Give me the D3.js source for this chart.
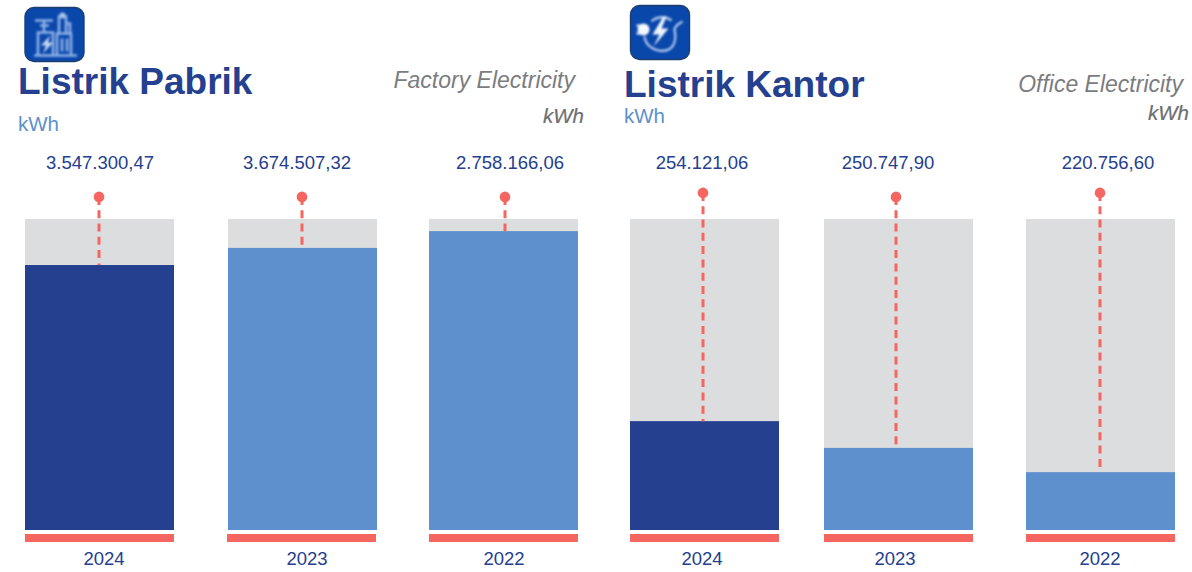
<!DOCTYPE html>
<html>
<head>
<meta charset="utf-8">
<script src="https://cdn.jsdelivr.net/npm/d3@7"></script>
<style>
  html, body { margin: 0; padding: 0; background: #fff; }
  svg { display: block; }
  text { font-family: "Liberation Sans", Arial, sans-serif; }
</style>
</head>
<body>
<div id="chart"></div>
<script>
var totWidth = 1192;
var totHeight = 572;

//-- Data
var years = ["2024", "2023", "2022"];

var factoryLabels = ["3.547.300,47", "3.674.507,32", "2.758.166,06"];
var factoryFill = [0.852, 0.907, 0.961];   // filled share of each grey track
var factoryPin = [1.071, 1.071, 1.071];    // top of the pin, same scale

var officeLabels = ["254.121,06", "250.747,90", "220.756,60"];
var officeFill = [0.350, 0.264, 0.186];
var officePin = [1.084, 1.071, 1.084];

//-- Colors
var navy = "#24408e";
var blue = "#5d90cd";
var track = "#dcddde";
var red = "#f4665f";
var grey = "#6d6e71";

var svg = d3.select("#chart")
  .append("svg")
    .attr("width", totWidth)
    .attr("height", totHeight)
    .attr("viewBox", "0 0 " + totWidth + " " + totHeight);

var defs = svg.append("defs");
defs.append("filter").attr("id", "soft")
  .attr("x", "-10%").attr("y", "-10%").attr("width", "120%").attr("height", "120%")
  .append("feGaussianBlur").attr("stdDeviation", 0.8);

//-- Shared y scale: 0 = base of track, 1 = top of track
var y = d3.scaleLinear().domain([0, 1]).range([530, 219]);
var barWidth = 149;

function drawPanel(p) {
  var g = svg.append("g");

  var xBar = d3.scaleOrdinal().domain(years).range(p.barX);
  var xBase = d3.scaleOrdinal().domain(years).range(p.baseX);
  var xPin = d3.scaleOrdinal().domain(years).range(p.pinX);
  var xValue = d3.scaleOrdinal().domain(years).range(p.valueX);
  var xYear = d3.scaleOrdinal().domain(years).range(p.yearX);

  var rows = years.map(function(d, i) {
    return {year: d, label: p.labels[i], fill: p.fill[i], pin: p.pin[i]};
  });

  //-- Titles
  g.append("text").attr("x", p.titleX).attr("y", p.titleY)
    .attr("font-size", 37).attr("font-weight", "bold").attr("fill", navy)
    .text(p.title);
  g.append("text").attr("x", p.titleX).attr("y", p.unitY)
    .attr("font-size", 20.5).attr("fill", blue)
    .text("kWh");
  g.append("text").attr("x", p.subX).attr("y", p.subY)
    .attr("text-anchor", "end").attr("font-size", 23).attr("font-style", "italic")
    .attr("fill", "#7b7c7f")
    .text(p.subtitle);
  g.append("text").attr("x", p.subUnitX).attr("y", p.subUnitY)
    .attr("text-anchor", "end").attr("font-size", 20.5).attr("font-style", "italic")
    .attr("fill", grey).attr("stroke", grey).attr("stroke-width", 0.2)
    .text("kWh");

  //-- Grey tracks
  g.selectAll(".track").data(rows).enter().append("rect")
    .attr("x", function(d) { return xBar(d.year); })
    .attr("y", y(1))
    .attr("width", barWidth)
    .attr("height", y(0) - y(1))
    .attr("fill", track);

  //-- Filled bars, the current year is darker
  g.selectAll(".fill").data(rows).enter().append("rect")
    .attr("x", function(d) { return xBar(d.year); })
    .attr("y", function(d) { return y(d.fill); })
    .attr("width", barWidth)
    .attr("height", function(d) { return y(0) - y(d.fill); })
    .attr("fill", function(d, i) { return i == 0 ? navy : blue; });

  //-- Red base strips
  g.selectAll(".base").data(rows).enter().append("rect")
    .attr("x", function(d) { return xBase(d.year); })
    .attr("y", 534)
    .attr("width", barWidth)
    .attr("height", 8)
    .attr("fill", red);

  //-- Pins
  g.selectAll(".pin").data(rows).enter().append("line")
    .attr("x1", function(d) { return xPin(d.year); })
    .attr("x2", function(d) { return xPin(d.year); })
    .attr("y1", function(d) { return y(d.pin); })
    .attr("y2", function(d) { return y(d.fill); })
    .attr("stroke", red)
    .attr("stroke-width", 3)
    .attr("stroke-dasharray", "8 5.3");
  g.selectAll(".dot").data(rows).enter().append("circle")
    .attr("cx", function(d) { return xPin(d.year); })
    .attr("cy", function(d) { return y(d.pin); })
    .attr("r", 5.3)
    .attr("fill", red);

  //-- Value labels
  g.selectAll(".value").data(rows).enter().append("text")
    .attr("x", function(d) { return xValue(d.year); })
    .attr("y", 169)
    .attr("text-anchor", "middle")
    .attr("font-size", 18.5)
    .attr("fill", navy)
    .text(function(d) { return d.label; });

  //-- Year labels
  g.selectAll(".year").data(rows).enter().append("text")
    .attr("x", function(d) { return xYear(d.year); })
    .attr("y", 565)
    .attr("text-anchor", "middle")
    .attr("font-size", 18.5)
    .attr("fill", navy)
    .text(function(d) { return d.year; });
}

drawPanel({
  title: "Listrik Pabrik", subtitle: "Factory Electricity",
  labels: factoryLabels, fill: factoryFill, pin: factoryPin,
  titleX: 18, titleY: 94, unitY: 131,
  subX: 575, subY: 88, subUnitX: 584, subUnitY: 123,
  barX: [25, 228, 429], baseX: [25, 227, 429],
  pinX: [99, 302, 505], valueX: [100, 297, 510], yearX: [104, 307, 504]
});

drawPanel({
  title: "Listrik Kantor", subtitle: "Office Electricity",
  labels: officeLabels, fill: officeFill, pin: officePin,
  titleX: 624, titleY: 97, unitY: 123,
  subX: 1183, subY: 92, subUnitX: 1189, subUnitY: 120,
  barX: [630, 824, 1026], baseX: [630, 824, 1026],
  pinX: [703, 896, 1100], valueX: [702, 888, 1108], yearX: [702, 895, 1100]
});

//-- Icons
function iconBox(x, yTop) {
  var g = svg.append("g").attr("transform", "translate(" + x + "," + yTop + ")");
  g.append("rect").attr("width", 59).attr("height", 54).attr("rx", 9)
    .attr("fill", "#0a47ab").attr("stroke", "#1d3f70").attr("stroke-width", 1.4);
  return g.append("g").attr("filter", "url(#soft)");
}

// factory
var ic1 = iconBox(25, 7.5);
ic1.append("path")
  .attr("d", "M9 48H52 M13 47V25H28V47 M32 47V26H46V47 M13 25H28 M10 13H28 M19 13V25 M15 18H24 M34 26V9H41V26 M41 16H45V26 M37 31V44 M42 31V44")
  .attr("fill", "none").attr("stroke", "#8db0e6").attr("stroke-width", 2.6);
ic1.append("path").attr("d", "M25 28L16 38H21L18 46L28 35H23Z").attr("fill", "#c4d6f2");
ic1.append("circle").attr("cx", 37.5).attr("cy", 8).attr("r", 3).attr("fill", "#a9c3ec");

// plug
var ic2 = iconBox(630.5, 5.5);
ic2.append("path")
  .attr("d", "M14 31C15 41 26 47 35 45C44 43 46 34 44 24C45 20 48 18 52 16 M21 16C26 11 35 10 41 15")
  .attr("fill", "none").attr("stroke", "#a9c4ee").attr("stroke-width", 2.4);
ic2.append("path").attr("d", "M33 11L22 29H29L23 41L38 23H31L36 11Z").attr("fill", "#eef4fc");
ic2.append("circle").attr("cx", 13).attr("cy", 24).attr("r", 6).attr("fill", "#f4f8ff");
ic2.append("path").attr("d", "M6 20H13 M6 28H13").attr("stroke", "#f4f8ff").attr("stroke-width", 2);
</script>
</body>
</html>
